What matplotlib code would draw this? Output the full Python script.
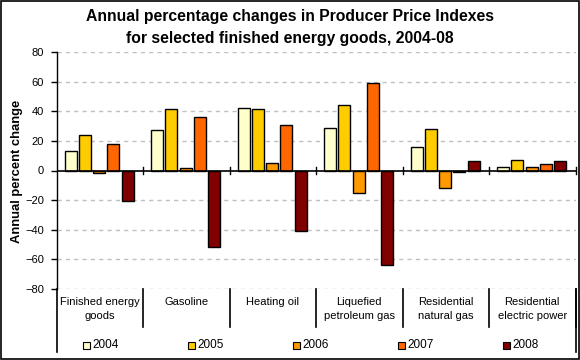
import matplotlib
matplotlib.use('Agg')
import matplotlib.pyplot as plt
import numpy as np
from matplotlib.patches import Rectangle

plt.rcParams['font.family'] = ['Liberation Sans', 'DejaVu Sans']

# data
categories = ['Finished energy\ngoods', 'Gasoline', 'Heating oil',
              'Liquefied\npetroleum gas', 'Residential\nnatural gas',
              'Residential\nelectric power']
years = ['2004', '2005', '2006', '2007', '2008']
v2004 = [13.5, 27.5, 42.3, 28.8, 16.0, 2.5]
v2005 = [24.1, 41.7, 41.7, 44.4, 28.2, 7.2]
v2006 = [-1.6, 1.8, 5.2, -15.1, -11.7, 2.5]
v2007 = [18.0, 36.3, 30.9, 59.2, -0.9, 4.5]
v2008 = [-20.5, -51.6, -40.8, -63.7, 6.5, 6.5]
series = [v2004, v2005, v2006, v2007, v2008]
colors = ['#FFFFCC', '#FFCC00', '#FF9900', '#FF6600', '#800000']

W, H = 580, 360
fig = plt.figure(figsize=(5.8, 3.6), dpi=100)
ax = fig.add_axes([56.5 / W, 1 - 289 / H, 519 / W, 237 / H])

n = len(categories)
x = np.arange(n)
bw = 0.139
step = 0.1653
for j, vals in enumerate(series):
    ax.bar(x + 0.162 + j * step, vals, width=bw, color=colors[j],
           edgecolor='black', linewidth=1, zorder=3)

ax.set_xlim(0, n)
ax.set_ylim(-80, 80)
ax.set_yticks(range(-80, 81, 20))
ax.tick_params(axis='y', direction='out', length=4, width=1, labelsize=8, pad=5)
ax.set_xticks([])
for s in ['top', 'right', 'bottom']:
    ax.spines[s].set_visible(False)
ax.spines['left'].set_bounds(-80, 80)
ax.spines['left'].set_linewidth(1)

# dashed grid, not at zero
for yv in range(-80, 81, 20):
    if yv != 0:
        ax.axhline(yv, color='#C0C0C0', linestyle=(0, (3, 3)), linewidth=1, zorder=1)
ax.axhline(0, color='black', linewidth=1.2, zorder=4)

# ticks on the zero line and category separators
trans = ax.get_xaxis_transform()
for i in range(1, n + 1):
    ax.plot([i, i], [-2.2, 2.2], color='black', linewidth=1, zorder=4, clip_on=False)
    ax.plot([i, i], [0, -0.160], color='black', linewidth=1.2, transform=trans, clip_on=False)
ax.plot([0, 0], [0, -0.266], color='black', linewidth=1.2, transform=trans, clip_on=False)
ax.plot([n, n], [0, -0.266], color='black', linewidth=1.2, transform=trans, clip_on=False)

for i, c in enumerate(categories):
    ax.text(i + 0.5, -0.035, c, transform=trans, ha='center', va='top',
            fontsize=8, linespacing=1.45)

fig.text(0.5, 1 - 17 / H, 'Annual percentage changes in Producer Price Indexes',
         ha='center', va='center', fontsize=11.3, fontweight='bold')
fig.text(0.5, 1 - 38 / H, 'for selected finished energy goods, 2004-08',
         ha='center', va='center', fontsize=11.3, fontweight='bold')
fig.text(17.5 / W, 1 - 171 / H, 'Annual percent change', rotation=90,
         ha='center', va='center', fontsize=9.4, fontweight='bold')

# legend
for j, yr in enumerate(years):
    cx = 86.5 + j * 105
    fig.add_artist(Rectangle(((cx - 3.5) / W, 1 - 348.5 / H), 7 / W, 7 / H,
                             facecolor=colors[j], edgecolor='black', linewidth=0.8,
                             transform=fig.transFigure))
    fig.text((cx + 6) / W, 1 - 345.5 / H, yr, ha='left', va='center', fontsize=8.5)

fig.add_artist(Rectangle((0.5 / W, 1.5 / H), 578.5 / W, 358 / H, fill=False,
                         edgecolor='black', linewidth=1.2, transform=fig.transFigure))

fig.savefig('out.png', dpi=100)
